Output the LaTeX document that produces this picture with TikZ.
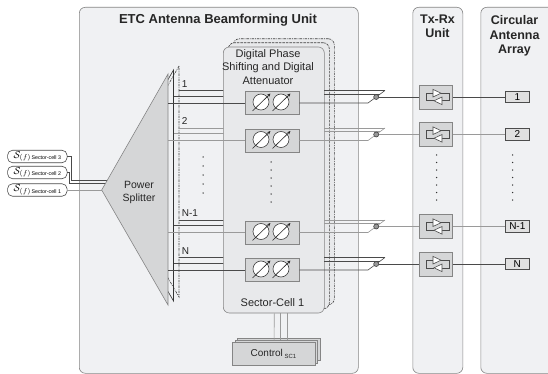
\documentclass[tikz,border=0pt]{standalone}
\usepackage{fontspec}
\setmainfont{Liberation Sans}
\usetikzlibrary{arrows.meta}
\definecolor{cont}{HTML}{F0F1F3}
\definecolor{secfill}{HTML}{E8E9EB}
\definecolor{boxfill}{HTML}{D5D6D7}
\definecolor{edge}{HTML}{858585}
\definecolor{dk}{HTML}{4A4A4A}
\definecolor{lt}{HTML}{9A9A9A}
\newcommand\insig[1]{$\mathcal{S}_{(f)}$\hspace{0.5pt}\raisebox{-1.5pt}{\fontsize{5.3}{6}\selectfont Sector-cell #1}}
\tikzset{
 container/.style={draw=edge, fill=cont, rounded corners=6pt, inner sep=0pt, anchor=north west},
 ttl/.style={font=\bfseries\fontsize{13}{15}\selectfont, text=black!85, inner sep=0pt},
 ttlb/.style={font=\bfseries\fontsize{12.5}{14.5}\selectfont, text=black!85, align=center, inner sep=0pt},
 inbox/.style={draw=dk, fill=white, rounded corners=5pt, minimum width=59.5pt, minimum height=12.5pt, inner sep=0pt},
 secfront/.style={draw=edge, fill=secfill, rounded corners=6pt, minimum width=101pt, minimum height=266pt, inner sep=0pt, anchor=north west},
 secbackA/.style={secfront, draw=black!75, dash pattern=on 2.5pt off 1pt},
 secbackB/.style={secfront, draw=black!75, dash pattern=on 2.5pt off 1pt on 0.8pt off 1pt},
 psbox/.style={draw=edge, fill=boxfill, minimum width=54pt, minimum height=23pt, inner sep=0pt},
 txbox/.style={draw=edge, fill=boxfill, minimum width=33pt, minimum height=24pt, inner sep=0pt},
 antbox/.style={draw=black!70, fill=black!12, minimum width=23.5pt, minimum height=11.5pt, inner sep=0pt, font=\fontsize{10}{12}\selectfont},
 swc/.style={circle, draw=black!75, fill=black!40, minimum size=5pt, inner sep=0pt},
 lbl/.style={font=\fontsize{10}{12}\selectfont, inner sep=0pt, text=black!85},
 ctlbox/.style={draw=edge, fill=boxfill, minimum width=82.7pt, minimum height=22.3pt, inner sep=0pt},
 pshift/.pic={
   \foreach \cx in {-11,9}{
     \draw[fill=white, draw=black!75] (\cx,-1) circle (8pt);
     \draw[black!85, -{Stealth[length=3.5pt,width=3pt]}] (\cx-8.5,8) -- (\cx+9.5,-9.5);
   }
 },
 txsym/.pic={
   \draw[black!70] (-3,-3.8) -- (-10,-3.8) -- (-10,3.8) -- (-2,3.8);
   \draw[black!70] (5,-3.8) -- (13,-3.8) -- (13,3.8) -- (6,3.8);
   \draw[black!70, fill=white] (-3,-7.6) -- (5,-3.8) -- (-3,0) -- cycle;
   \draw[black!70, fill=white] (6,0) -- (6,7.6) -- (-2,3.8) -- cycle;
 },
}
\begin{document}
\begin{tikzpicture}[x=1pt,y=-1pt,line width=0.6pt]
\useasboundingbox (0,0) rectangle (548,374);
\fill[white] (0,0) rectangle (548,374);

% containers
\node[container, minimum width=279pt, minimum height=366pt] (etc) at (79,7) {};
\node[container, minimum width=50pt, minimum height=366pt] (txu) at (412.5,7) {};
\node[container, minimum width=80pt, minimum height=366pt] (caa) at (480.5,7) {};
\node[ttl] (etct) at (218,20.5) {ETC Antenna Beamforming Unit};
\node[ttlb] (txt) at (437.5,26.5) {Tx-Rx\\Unit};
\node[ttlb] (caat) at (514.5,36) {Circular\\Antenna\\Array};

% inputs
\node[inbox] (in3) at (37.3,156.5) {\insig{3}};
\node[inbox] (in2) at (37.3,172.5) {\insig{2}};
\node[inbox] (in1) at (37.3,190) {\insig{1}};
\coordinate (j3) at (112,180.7);
\coordinate (j2) at (110,183.3);
\coordinate (spt) at (101.7,190);
\draw[dk] (in3.east) -| (71.7,180.7) -- (j3);
\draw[dk] (in2.east) -| (69,183.3) -- (j2);
\draw[lt] (in1.east) -- (spt);

% back sector cells
\node[secbackB] (sb3) at (233,38.5) {};
\node[secbackA] (sb2) at (228,42.5) {};

% splitter stack
\draw[black!75, dash pattern=on 2.5pt off 1pt on 0.8pt off 1pt] (179,66) -- (112.7,182) -- (179,297) -- cycle;
\draw[black!80] (173.5,70) -- (107.2,186) -- (173.5,301) -- cycle;

% lines to back cells (left)
\foreach \y/\c in {103/dk,140.5/lt,232.5/dk,270/dk}{
  \draw[\c] (179,\y-12.5) -- (224,\y-12.5);
  \draw[\c] (173.5,\y-7) -- (224,\y-7);
}
\draw[edge, fill=boxfill] (168,74) -- (spt) -- (168,305) -- cycle;
\node[font=\fontsize{10.5}{13}\selectfont, align=center, inner sep=0pt, text=black!85] (pst) at (139,192) {Power\\Splitter};

% front sector cell
\node[secfront] (sec) at (223,46.7) {};
\node[font=\fontsize{11}{13.5}\selectfont, align=center, inner sep=0pt, text=black!85] (sectxt) at (268,67) {Digital Phase\\Shifting and Digital\\Attenuator};
\node[font=\fontsize{11}{13}\selectfont, inner sep=0pt, text=black!85] (seclbl) at (272.5,302.5) {Sector-Cell 1};

% rows
\foreach \i/\y/\c/\lab in {1/103/dk/1, 2/140.5/lt/2, 3/232.5/lt/N-1, 4/270/dk/N}{
  \node[psbox] (ps\i) at (272,\y) {};
  \pic at (ps\i.center) {pshift};
  \coordinate (sp\i) at (168,\y);
  \draw[\c] (sp\i) -- (ps\i.west);
  \node[lbl, anchor=west] (rl\i) at (181.5,\y-19) {\lab};
  \draw[\c] (ps\i.east) -- (368,\y) -- (385,\y-12.5);
  \draw[\c] (324,\y-12.5) -- (385,\y-12.5);
  \draw[\c] (324,\y-9) -- (380.2,\y-9);
  \node[swc] (sw\i) at (376.2,\y-6) {};
  \node[txbox] (tx\i) at (436,\y-6) {};
  \pic at (tx\i.center) {txsym};
  \node[antbox] (ant\i) at (517.3,\y-6) {\lab};
  \draw[\c] (sw\i) -- (tx\i.west);
  \draw[\c] (tx\i.east) -- (ant\i.west);
}

% dots
\foreach \yy in {157,166,175,184,193} \fill[black!80] (203,\yy) circle (0.75pt);
\foreach \yy in {162,170,178,186,194,202} \fill[black!80] (271,\yy) circle (0.75pt);
\foreach \yy in {155,162.5,170,177.5,185,192.5,200}{
  \fill[black!80] (436.7,\yy) circle (0.75pt);
  \fill[black!80] (512.7,\yy) circle (0.75pt);
}

% control
\node[ctlbox] (ctlb2) at (278.7,349.5) {};
\node[ctlbox] (ctlb1) at (276.2,351.7) {};
\draw[lt] ([xshift=0.5pt]sec.south) -- ([xshift=0.3pt]ctlb1.north -| sec.south);
\draw[lt] ([xshift=6.5pt]sec.south) -- ([xshift=6.5pt]sec.south |- ctlb1.north);
\draw[lt] ([xshift=13pt]sec.south) -- ([xshift=13pt]sec.south |- ctlb1.north);
\node[ctlbox] (ctl) at (273.7,353.9) {};
\node[inner sep=0pt, font=\fontsize{10}{12}\selectfont, text=black!85] (ctlt) at (273.5,354) {Control\,\raisebox{-2.5pt}{\fontsize{6}{7}\selectfont SC1}};
\end{tikzpicture}
\end{document}
